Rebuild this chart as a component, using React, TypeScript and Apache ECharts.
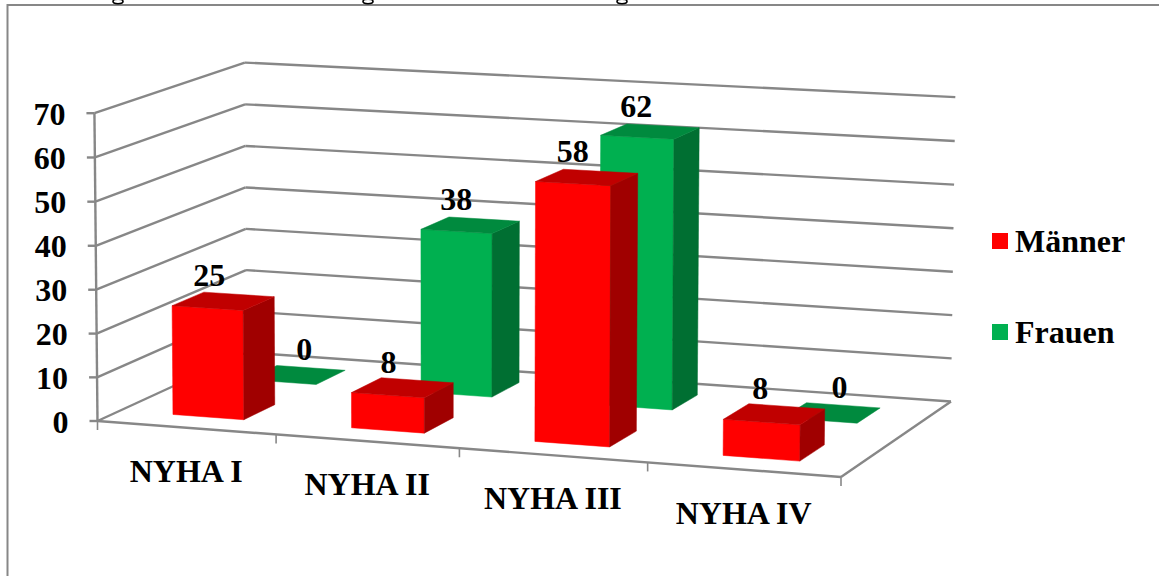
import React, { useEffect, useRef } from "react";
import * as echarts from "echarts";

const categories = ["NYHA I", "NYHA II", "NYHA III", "NYHA IV"];
const maenner = [25, 8, 58, 8];
const frauen = [0, 38, 62, 0];
const valueTicks = [0, 10, 20, 30, 40, 50, 60, 70];

const FONT = "'Liberation Serif', 'Times New Roman', serif";
const LABEL_FONT = `bold 32px ${FONT}`;
const AXIS_GREY = "#878787";

// Projected corners of the chart box: floor, plus three points of the top plane.
const FLOOR_FL = [97.5, 421];
const FLOOR_FR = [841, 477];
const FLOOR_BR = [951, 401.5];
const FLOOR_BL = [246.5, 352.5];
const TOP_FL = [93, 113];
const TOP_BL = [246.5, 62];
const TOP_BR = [955, 98];

type M = number[][];

function solve(a: M, b: number[]): number[] {
  const n = b.length;
  const m = a.map((r, i) => [...r, b[i]]);
  for (let i = 0; i < n; i++) {
    let p = i;
    for (let r = i + 1; r < n; r++) if (Math.abs(m[r][i]) > Math.abs(m[p][i])) p = r;
    [m[i], m[p]] = [m[p], m[i]];
    for (let r = 0; r < n; r++) {
      if (r === i) continue;
      const f = m[r][i] / m[i][i];
      for (let c = i; c <= n; c++) m[r][c] -= f * m[i][c];
    }
  }
  return m.map((r, i) => r[n] / r[i]);
}

// Builds a camera matrix mapping (u, v, w) in the unit cube to the page:
// u runs along the categories, v up the value axis, w back into the depth.
function buildCamera() {
  const floor: [number, number, number[]][] = [
    [0, 0, FLOOR_FL],
    [1, 0, FLOOR_FR],
    [1, 1, FLOOR_BR],
    [0, 1, FLOOR_BL],
  ];
  const a: M = [];
  const b: number[] = [];
  for (const [u, w, [x, y]] of floor) {
    a.push([u, w, 1, 0, 0, 0, -u * x, -w * x]);
    b.push(x);
    a.push([0, 0, 0, u, w, 1, -u * y, -w * y]);
    b.push(y);
  }
  const h = solve(a, b);
  const top: [number, number, number[]][] = [
    [0, 0, TOP_FL],
    [0, 1, TOP_BL],
    [1, 1, TOP_BR],
  ];
  // Least squares for the column belonging to the value direction.
  const rows: M = [];
  const rhs: number[] = [];
  for (const [u, w, [x, y]] of top) {
    const d = h[6] * u + h[7] * w + 1;
    const nx = h[0] * u + h[1] * w + h[2];
    const ny = h[3] * u + h[4] * w + h[5];
    rows.push([1, 0, -x]);
    rhs.push(x * d - nx);
    rows.push([0, 1, -y]);
    rhs.push(y * d - ny);
  }
  const ata: M = [0, 1, 2].map((i) => [0, 1, 2].map((j) => rows.reduce((s, r) => s + r[i] * r[j], 0)));
  const atb = [0, 1, 2].map((i) => rows.reduce((s, r, k) => s + r[i] * rhs[k], 0));
  const [vx, vy, vd] = solve(ata, atb);
  return (u: number, v: number, w: number): number[] => {
    const d = h[6] * u + h[7] * w + vd * v + 1;
    return [(h[0] * u + h[1] * w + vx * v + h[2]) / d, (h[3] * u + h[4] * w + vy * v + h[5]) / d];
  };
}

const project = buildCamera();

// Value and category positions come from the cartesian axes, then go through the camera.
function toUnit(params: any, api: any, cat: number, value: number) {
  const cs = params.coordSys;
  const p = api.coord([cat, value]);
  return { u: (p[0] - cs.x) / cs.width, v: (cs.y + cs.height - p[1]) / cs.height };
}

const seg = (a: number[], b: number[], width = 2.4, color = AXIS_GREY) => ({
  type: "line",
  shape: { x1: a[0], y1: a[1], x2: b[0], y2: b[1] },
  style: { stroke: color, lineWidth: width, fill: null },
  silent: true,
});

const face = (pts: number[][], color: string) => ({
  type: "polygon",
  shape: { points: pts },
  style: { fill: color, stroke: color, lineWidth: 0.5 },
  silent: true,
});

const label = (x: number, y: number, text: string, align = "center") => ({
  type: "text",
  style: { x, y, text, font: LABEL_FONT, fill: "#000", align, verticalAlign: "middle" },
  silent: true,
});

function renderGridline(params: any, api: any) {
  const value = api.value(1);
  const { v } = toUnit(params, api, 0, value);
  const fl = project(0, v, 0);
  const bl = project(0, v, 1);
  const br = project(1, v, 1);
  const children: any[] = [
    seg(fl, bl),
    seg(bl, br),
    seg([fl[0] - 8, fl[1]], fl),
    label(fl[0] - 29, fl[1] + 0.5, String(value), "right"),
  ];
  if (value === 0) {
    const fr = project(1, 0, 0);
    children.push(seg(fl, fr), seg(fr, br), seg(fl, project(0, 1, 0)));
  }
  return { type: "group", children };
}

function renderCategory(params: any, api: any) {
  const cat = api.value(0);
  const cs = params.coordSys;
  const half = api.size([1, 0])[0] / 2;
  const { u } = toUnit(params, api, cat, 0);
  const du = half / cs.width;
  const base = project(u, 0, 0);
  const children: any[] = [];
  const right = project(u + du, 0, 0);
  children.push(seg(right, [right[0], right[1] + 9], 1.6));
  if (cat === 0) {
    const left = project(0, 0, 0);
    children.push(seg(left, [left[0], left[1] + 9], 1.6));
  }
  children.push(label(base[0], base[1] + 43, categories[cat]));
  return { type: "group", children };
}

const BAR_WIDTH = 0.4; // share of a category band
const BAR_DEPTH = 0.21; // share of the box depth

type BarColors = { front: string; top: string; side: string };

function topFaceOf(params: any, api: any, depthCenter: number) {
  const cs = params.coordSys;
  const { u, v } = toUnit(params, api, api.value(0), api.value(1));
  const du = (api.size([1, 0])[0] / cs.width) * (BAR_WIDTH / 2);
  const u0 = u - du;
  const u1 = u + du;
  const w0 = depthCenter - BAR_DEPTH / 2;
  const w1 = depthCenter + BAR_DEPTH / 2;
  return { u0, u1, w0, w1, pts: [project(u0, v, w0), project(u1, v, w0), project(u1, v, w1), project(u0, v, w1)] };
}

function barRenderer(depthCenter: number, colors: BarColors) {
  return (params: any, api: any) => {
    const { u0, u1, w0, w1, pts } = topFaceOf(params, api, depthCenter);
    const children: any[] = [];
    if (api.value(1) > 0) {
      children.push(
        face([project(u0, 0, w0), project(u1, 0, w0), pts[1], pts[0]], colors.front),
        face([project(u1, 0, w0), project(u1, 0, w1), pts[2], pts[1]], colors.side),
      );
    }
    children.push(face(pts, colors.top));
    return { type: "group", children };
  };
}

// Value labels sit above the top face; they are a separate layer over every bar.
function barLabelRenderer(depthCenter: number) {
  return (params: any, api: any) => {
    const value = api.value(1);
    const { pts } = topFaceOf(params, api, depthCenter);
    const cx = pts.reduce((s, p) => s + p[0], 0) / 4;
    const cy = pts.reduce((s, p) => s + p[1], 0) / 4;
    return label(cx + (value === 0 ? 8 : -14), cy - 26, String(value));
  };
}

const RED = { front: "#ff0000", top: "#c00000", side: "#a00000" };
const GREEN = { front: "#00b050", top: "#008a3e", side: "#006f32" };
const MEN_DEPTH = 0.25;
const WOMEN_DEPTH = 0.75;

// Tails of the caption line that runs off the top edge of the page.
const captionTails = [118, 368, 622];

export default function App() {
  const ref = useRef<HTMLDivElement>(null);
  useEffect(() => {
    const chart = echarts.init(ref.current!, null, { renderer: "svg" });
    const layer = (renderItem: any, data: number[][], z: number, name?: string, color?: string) => ({
      type: "custom",
      name,
      z,
      silent: true,
      itemStyle: color ? { color } : undefined,
      renderItem,
      encode: { x: 0, y: 1 },
      data,
    });
    const menData = maenner.map((y, i) => [i, y]);
    const womenData = frauen.map((y, i) => [i, y]);
    chart.setOption({
      animation: false,
      backgroundColor: "#ffffff",
      textStyle: { fontFamily: FONT },
      grid: { left: 97, top: 113, width: 744, height: 308 },
      xAxis: {
        type: "category",
        data: categories,
        axisLine: { show: false },
        axisTick: { show: false },
        axisLabel: { show: false },
      },
      yAxis: {
        type: "value",
        min: 0,
        max: 70,
        interval: 10,
        axisLine: { show: false },
        axisTick: { show: false },
        splitLine: { show: false },
        axisLabel: { show: false },
      },
      legend: {
        orient: "vertical",
        left: 992,
        top: 225,
        padding: 0,
        itemWidth: 16,
        itemHeight: 16,
        itemGap: 59,
        icon: "rect",
        data: ["Männer", "Frauen"],
        textStyle: { fontFamily: FONT, fontWeight: "bold", fontSize: 32, color: "#000", padding: [0, 0, 0, 2] },
      },
      graphic: [
        {
          type: "rect",
          shape: { x: 7.5, y: 5, width: 1170, height: 590 },
          style: { fill: "none", stroke: AXIS_GREY, lineWidth: 2 },
          silent: true,
        },
        ...captionTails.map((cx) => ({
          type: "ellipse",
          shape: { cx, cy: 1.5, rx: 5, ry: 2.2 },
          style: { fill: "none", stroke: "#000", lineWidth: 1.6 },
          silent: true,
        })),
      ],
      series: [
        layer(renderGridline, valueTicks.map((t) => [0, t]), 1, "gridlines"),
        layer(renderCategory, categories.map((_, i) => [i, 0]), 1, "categories"),
        layer(barRenderer(WOMEN_DEPTH, GREEN), womenData, 2, "Frauen", GREEN.front),
        layer(barRenderer(MEN_DEPTH, RED), menData, 3, "Männer", RED.front),
        layer(barLabelRenderer(WOMEN_DEPTH), womenData, 4, "Frauen labels"),
        layer(barLabelRenderer(MEN_DEPTH), menData, 4, "Männer labels"),
      ],
    });
    return () => chart.dispose();
  }, []);
  return <div ref={ref} style={{ position: "absolute", left: 0, top: 0, width: 1159, height: 576 }} />;
}
